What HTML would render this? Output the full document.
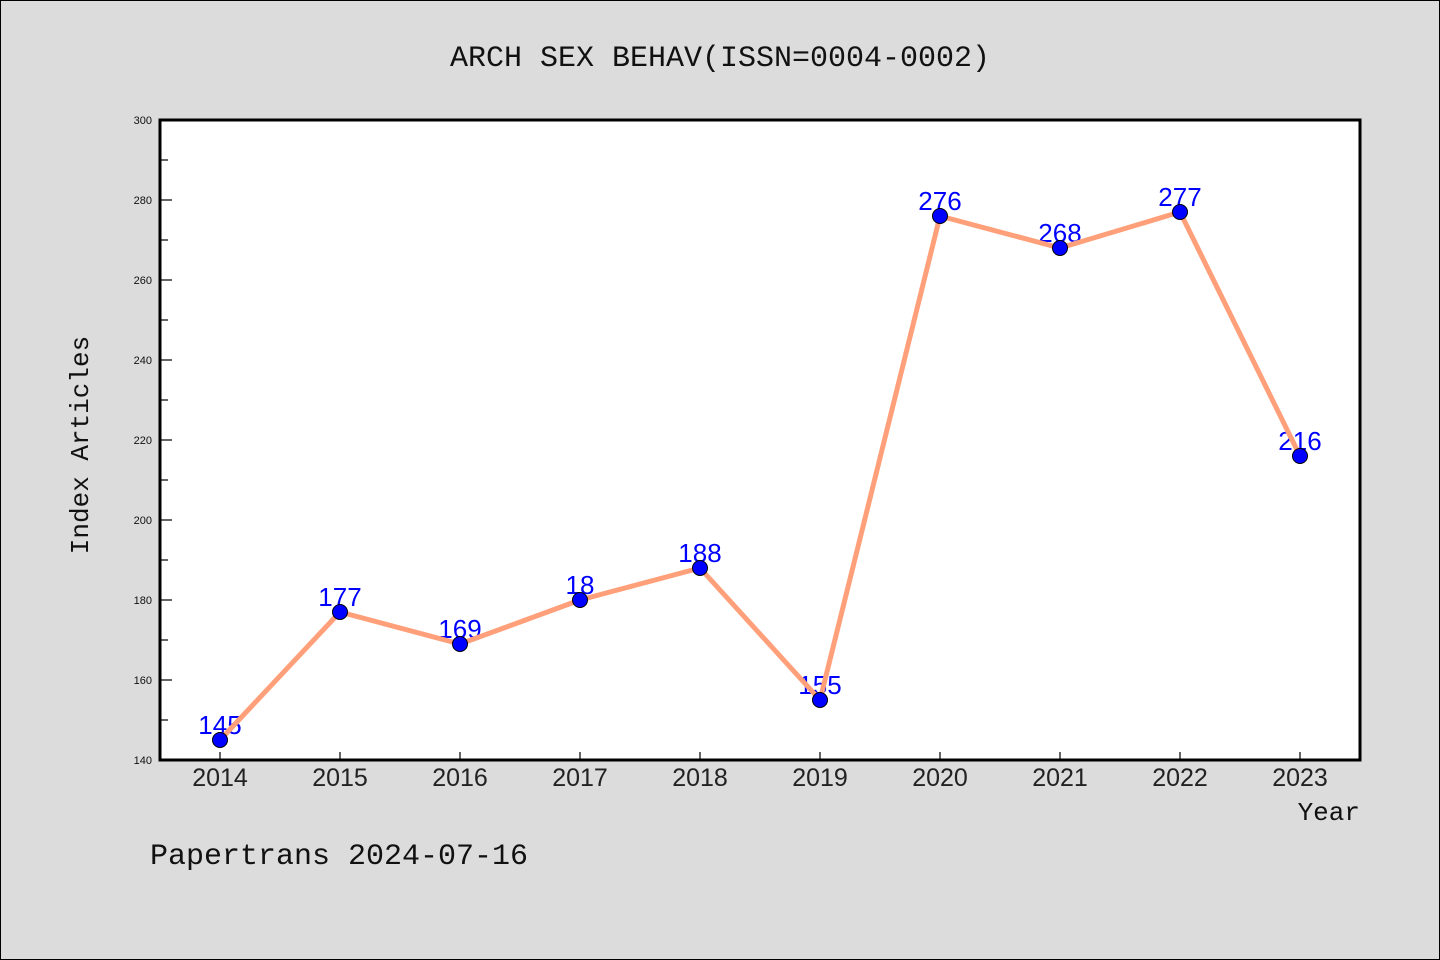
<!DOCTYPE html>
<html><head><meta charset="utf-8"><style>
html,body{margin:0;padding:0;background:#dcdcdc;}
svg{display:block;font-family:"Liberation Mono","DejaVu Sans Mono",monospace;}
</style></head><body>
<svg id="chart" width="1440" height="960" viewBox="0 0 1440 960" xmlns="http://www.w3.org/2000/svg">
<rect x="0.5" y="0.5" width="1439" height="959" fill="#dcdcdc" stroke="#000" stroke-width="1"/>
<text x="720" y="66" text-anchor="middle" font-size="30" fill="#111">ARCH SEX BEHAV(ISSN=0004-0002)</text>
<rect x="160" y="120" width="1200" height="640" fill="#fff"/>
<g id="yaxis"></g>
<g id="xaxis"></g>
<g id="labels"></g>
<g id="series"></g>
<rect x="160" y="120" width="1200" height="640" fill="none" stroke="#000" stroke-width="3"/>
<text transform="translate(88,445) rotate(-90)" text-anchor="middle" font-size="26" fill="#111">Index Articles</text>
<text x="1360" y="820" text-anchor="end" font-size="26" fill="#111">Year</text>
<text x="150" y="864" font-size="30" fill="#111">Papertrans 2024-07-16</text>
</svg>
<script>
const years = ["2014","2015","2016","2017","2018","2019","2020","2021","2022","2023"];
const values = [145,177,169,180,188,155,276,268,277,216];
const valueLabels = ["145","177","169","18","188","155","276","268","277","216"];
const yTicks = [140,160,180,200,220,240,260,280,300];
const yMin = 140, yMax = 300;
const NS = "http://www.w3.org/2000/svg";
const L=160,R=1360,T=120,B=760;
const xs = i => L + 60 + i*(R-L-120)/(years.length-1);
const ys = v => B - (v-yMin)/(yMax-yMin)*(B-T);
function mk(tag, attrs, parent){const e=document.createElementNS(NS,tag);for(const k in attrs)e.setAttribute(k,attrs[k]);parent.appendChild(e);return e;}
const ya=document.getElementById('yaxis'), xa=document.getElementById('xaxis');
yTicks.forEach((t,i)=>{
  const y=ys(t);
  const ln=mk('line',{x1:L,x2:L+12,y1:y,y2:y,stroke:'#000','stroke-width':1.2},ya);
  
  
  const tx=mk('text',{x:L-8,y:y+4,'text-anchor':'end','font-size':11,fill:'#111','font-family':'"Liberation Sans",sans-serif'},ya);
  tx.textContent=t;
  
  
  if(i<yTicks.length-1){
    const ym=ys(t+(yTicks[1]-yTicks[0])/2);
    const mn=mk('line',{x1:L,x2:L+8,y1:ym,y2:ym,stroke:'#000','stroke-width':1.2},ya);
    
    
  }
});
years.forEach((yr,i)=>{
  const x=xs(i);
  const ln=mk('line',{x1:x,x2:x,y1:B,y2:B-8,stroke:'#000','stroke-width':1.2},xa);
  
  
  const tx=mk('text',{x:x,y:B+26,'text-anchor':'middle','font-size':25,fill:'#222','font-family':'"Liberation Sans",sans-serif'},xa);
  tx.textContent=yr;
  
  
});
const lg=document.getElementById('labels');
values.forEach((v,i)=>{
  const tx=mk('text',{x:xs(i),y:ys(v)-6,'text-anchor':'middle','font-size':26,fill:'#0000ff','font-family':'"Liberation Sans",sans-serif'},lg);
  tx.textContent=valueLabels[i];
  
  
});
const sg=document.getElementById('series');
const pl=mk('polyline',{points:values.map((v,i)=>xs(i)+','+ys(v)).join(' '),fill:'none',stroke:'#ffa07a','stroke-width':5,'stroke-linejoin':'round'},sg);


values.forEach((v,i)=>{
  const c=mk('circle',{cx:xs(i),cy:ys(v),r:7.5,fill:'#0000ff',stroke:'#000','stroke-width':1},sg);
  
  
});
</script>
</body></html>
